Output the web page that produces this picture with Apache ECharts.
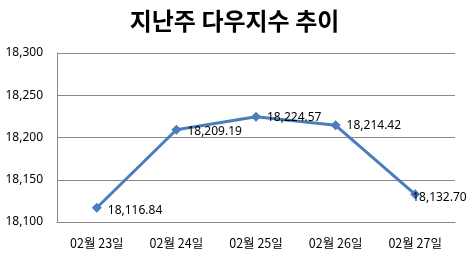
<!DOCTYPE html>
<html><head><meta charset="utf-8">
<script src="https://cdn.jsdelivr.net/npm/echarts@6/dist/echarts.min.js"></script>
<style>html,body{margin:0;padding:0;background:#fff}#c{width:469px;height:259px}</style>
</head><body><div id="c"></div>
<script>
const categories = ['02월 23일','02월 24일','02월 25일','02월 26일','02월 27일'];
const values = [18116.84, 18209.19, 18224.57, 18214.42, 18132.70];
const yTicks = [18100, 18150, 18200, 18250, 18300];
const labelOffsets = [[0,3],[0,2],[0,1],[0,0],[-14,3]];

const fmt = v => v.toLocaleString('en-US',{minimumFractionDigits:2,maximumFractionDigits:2});
const chart = echarts.init(document.getElementById('c'));
chart.setOption({
  animation:false,
  title:{text:'지난주 다우지수 추이',left:'center',top:4,
    textStyle:{fontFamily:'Noto Sans CJK KR',fontWeight:'bold',fontSize:24,color:'#000'}},
  grid:{left:57,right:14,top:53,bottom:37},
  xAxis:{type:'category',data:categories,boundaryGap:true,
    axisLine:{lineStyle:{color:'#888',width:1}},axisTick:{show:false},
    axisLabel:{color:'#000',fontSize:12.5,margin:15,fontFamily:'Noto Sans CJK KR'}},
  yAxis:{type:'value',min:yTicks[0],max:yTicks[yTicks.length-1],interval:50,
    axisLine:{show:true,lineStyle:{color:'#888',width:1}},axisTick:{show:false},
    splitLine:{lineStyle:{color:'#888',width:1}},
    axisLabel:{color:'#000',fontSize:12,margin:14,fontFamily:'Noto Sans',
      formatter:v=>v.toLocaleString('en-US')}},
  series:[{type:'line',
    data:values.map((v,i)=>({value:v,label:{offset:labelOffsets[i]}})),
    symbol:'diamond',symbolSize:10,
    lineStyle:{color:'#4a7ebb',width:3},itemStyle:{color:'#4a7ebb'},
    label:{show:true,position:'right',distance:6,color:'#000',fontSize:12,fontFamily:'Noto Sans',
      formatter:p=>fmt(p.value)}}]
});
</script></body></html>
